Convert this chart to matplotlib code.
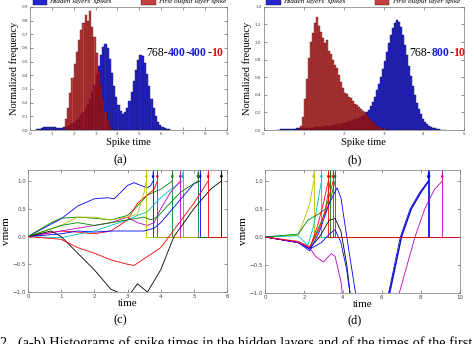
import numpy as np
import matplotlib
matplotlib.use("Agg")
import matplotlib.pyplot as plt

SERIF = ["Liberation Serif", "DejaVu Serif"]

# ---- (a) histogram, 768-400-400-10, bin width 0.1
a_width = 0.1
a_hidden_start = 0.3
a_hidden = [0.005, 0.01, 0.015, 0.02, 0.025, 0.025, 0.025, 0.02, 0.02, 0.015,
            0.015, 0.015, 0.02, 0.025, 0.03, 0.04, 0.05, 0.06, 0.075, 0.09,
            0.11, 0.13, 0.16, 0.19, 0.23, 0.28, 0.33, 0.40, 0.47, 0.55,
            0.61, 0.63, 0.60, 0.52, 0.42, 0.32, 0.24, 0.18, 0.14, 0.12,
            0.13, 0.16, 0.21, 0.28, 0.36, 0.44, 0.51, 0.55, 0.54, 0.49,
            0.41, 0.32, 0.23, 0.16, 0.10, 0.06, 0.035, 0.02, 0.012, 0.007,
            0.004, 0.002]
a_output_start = 1.6
a_output = [0.08, 0.16, 0.27, 0.38, 0.48, 0.57, 0.66, 0.73, 0.78, 0.84,
            0.80, 0.87, 0.75, 0.68, 0.56, 0.43, 0.32, 0.22, 0.13, 0.07,
            0.03, 0.01]

# ---- (b) histogram, 768-800-10, bin width 0.05
b_width = 0.05
b_hidden_start = 0.3
b_hidden = [0.004, 0.006, 0.008, 0.010, 0.012, 0.013, 0.014, 0.015, 0.016, 0.017,
            0.018, 0.019, 0.020, 0.021, 0.022, 0.023, 0.024, 0.026, 0.028, 0.030,
            0.032, 0.034, 0.036, 0.039, 0.042, 0.045, 0.048, 0.051, 0.055, 0.059,
            0.063, 0.068, 0.073, 0.078, 0.084, 0.090, 0.097, 0.104, 0.112, 0.120,
            0.129, 0.138, 0.148, 0.16, 0.175, 0.20, 0.23, 0.27, 0.32, 0.38,
            0.45, 0.52, 0.60, 0.69, 0.79, 0.89, 0.99, 1.08, 1.16, 1.22,
            1.25, 1.23, 1.17, 1.08, 0.97, 0.85, 0.73, 0.61, 0.50, 0.40,
            0.31, 0.24, 0.18, 0.13, 0.095, 0.07, 0.05, 0.036, 0.026, 0.019,
            0.013, 0.009, 0.006, 0.004, 0.002]
b_output_start = 0.85
b_output = [0.01, 0.05, 0.15, 0.35, 0.58, 0.82, 1.00, 1.10, 1.22, 1.29,
            1.18, 1.12, 1.05, 0.99, 1.02, 0.90, 0.86, 0.80, 0.74, 0.70,
            0.62, 0.55, 0.48, 0.42, 0.41, 0.38, 0.36, 0.33, 0.30, 0.28,
            0.26, 0.24, 0.22, 0.20, 0.17, 0.14, 0.11, 0.09, 0.07, 0.05,
            0.035, 0.025, 0.015, 0.01, 0.005, 0.003]

# ---- (c) membrane traces: (times, vmem, colour, spike time)
c_traces = [
    ([0, 1, 1.5, 2, 2.4, 2.6, 3.0, 3.2, 3.4, 3.6, 3.7, 3.77],
     [0, 0.32, 0.55, 0.68, 0.70, 0.68, 0.92, 0.97, 0.92, 0.88, 0.92, 1.0], 'b', 3.77),
    ([0, 0.7, 1, 1.5, 2, 2.5, 3, 3.3, 3.6, 3.8, 4.0, 4.35],
     [0, 0.25, 0.33, 0.35, 0.33, 0.30, 0.38, 0.55, 0.75, 0.80, 0.85, 1.0], 'g', 4.35),
    ([0, 0.5, 1, 1.5, 2, 2.5, 3.0, 3.3, 3.6, 3.8, 3.9],
     [0, 0.05, 0.10, 0.08, 0.05, 0.10, 0.30, 0.60, 0.75, 0.85, 1.0], 'r', 3.9),
    ([0, 1, 2, 2.5, 3, 3.3, 3.6, 4.0, 4.3, 4.66],
     [0, -0.02, 0.10, 0.20, 0.30, 0.38, 0.45, 0.70, 0.85, 1.0], 'c', 4.66),
    ([0, 0.5, 1, 1.5, 2, 2.5, 3, 3.3, 3.6, 3.8, 4.0, 4.3, 4.59],
     [0, 0.05, 0.10, 0.15, 0.20, 0.25, 0.35, 0.25, 0.20, 0.25, 0.50, 0.80, 1.0], 'm', 4.59),
    ([0, 1, 1.5, 2, 2.5, 3, 3.3, 3.5, 3.57],
     [0, 0.20, 0.35, 0.35, 0.30, 0.35, 0.40, 0.80, 1.0], 'y', 3.57),
    ([0, 0.7, 1, 1.5, 2, 2.5, 2.7, 3.0, 3.3, 3.6, 4.0, 4.4, 5.0, 5.5, 5.83],
     [0, 0.10, 0.0, -0.30, -0.60, -0.95, -1.0, -1.1, -0.85, -1.0, -0.60, 0.0, 0.50, 0.85, 1.0], 'k', 5.83),
    ([0, 1, 1.5, 2, 2.5, 3.0, 3.5, 3.8, 4.0, 4.5, 5.0, 5.19],
     [0, 0.05, 0.10, 0.08, 0.10, 0.10, 0.10, 0.15, 0.25, 0.60, 0.95, 1.0], 'b', 5.19),
    ([0, 1, 1.5, 2, 2.5, 3, 3.5, 3.7, 3.9, 4.2, 4.6, 5.12],
     [0, 0.20, 0.25, 0.20, 0.25, 0.30, 0.35, 0.30, 0.35, 0.55, 0.80, 1.0], 'g', 5.12),
    ([0, 1, 1.5, 2, 2.5, 3, 3.2, 3.5, 4, 4.5, 5, 5.43],
     [0, -0.05, -0.20, -0.30, -0.42, -0.50, -0.52, -0.40, -0.20, 0.20, 0.60, 1.0], 'r', 5.43),
]

# ---- (d) membrane traces
d_traces = [
    ([0, 1.7, 2.0, 2.3, 2.5], [0, 0.03, 0.30, 0.60, 1.0], 'y', 2.5),
    ([0, 1.7, 2.2, 2.5, 2.7, 2.9], [0, 0.02, -0.15, 0.20, 0.60, 1.0], 'c', 2.9),
    ([0, 1.7, 2.2, 2.8, 3.1, 3.35], [0, 0.05, 0.30, 0.42, 0.50, 1.0], 'g', 3.35),
    ([0, 1.7, 2.3, 2.7, 3.0, 3.25], [0, -0.10, -0.20, 0.20, 0.60, 1.0], 'r', 3.25),
    ([0, 1.7, 2.3, 2.8, 3.3, 3.6], [0, -0.10, -0.20, 0.20, 0.60, 1.0], 'g', 3.6),
    ([0, 1.7, 2.3, 2.8, 3.3, 3.6, 3.9, 4.2, 4.4, 5.4, 6.38, 6.7, 7.0, 7.5, 8.0, 8.4],
     [0, -0.10, -0.20, 0.0, 0.30, 0.33, 0.10, -0.50, -1.1, -3.0, -1.0, -0.50, 0.0, 0.50, 0.80, 1.0], 'k', None),
    ([0, 1.7, 2.3, 2.9, 3.3, 3.6, 3.9, 4.2, 4.4, 5.4, 6.35, 6.65, 6.95, 7.45, 7.95, 8.38],
     [0, -0.10, -0.22, -0.10, 0.05, 0.13, -0.10, -0.60, -1.1, -3.0, -1.0, -0.50, 0.0, 0.50, 0.80, 1.0], 'b', 8.38),
    ([0, 1.7, 2.3, 2.8, 3.3, 3.7, 3.9, 4.2, 4.6, 4.7, 5.5, 6.42, 6.72, 7.02, 7.52, 8.02, 8.42],
     [0, -0.10, -0.25, 0.10, 0.60, 0.88, 0.70, 0.0, -0.90, -1.1, -3.0, -1.0, -0.50, 0.0, 0.50, 0.80, 1.0], 'b', 8.42),
    ([0, 1.7, 2.3, 2.6, 3.0, 3.4, 3.6, 3.9, 4.0, 5.5, 6.9, 7.3, 7.7, 8.2, 8.7, 9.1],
     [0, -0.10, -0.20, -0.35, -0.45, -0.30, -0.35, -0.80, -1.1, -3.0, -1.0, -0.50, 0.0, 0.50, 0.85, 1.0], 'm', 9.1),
    ([0, 1.7, 2.3, 2.8, 3.2, 3.5], [0, -0.08, -0.18, 0.15, 0.60, 1.0], 'r', 3.5),
]

fig = plt.figure(figsize=(4.74, 3.44), dpi=100)


def style_axes(ax, tick_size):
    ax.tick_params(direction='in', top=True, right=True, labelsize=tick_size,
                   length=2, width=0.4, pad=1.5, colors='#444444')
    for s in ax.spines.values():
        s.set_color('#777777')
        s.set_linewidth(0.5)


def hist_panel(ax, width, hs, hidden, os_, output):
    x_h = hs + width * np.arange(len(hidden))
    x_o = os_ + width * np.arange(len(output))
    bh = ax.bar(x_h, hidden, width=width, align='edge', color='#2626cc',
                edgecolor='#10105a', linewidth=0.3)
    bo = ax.bar(x_o, output, width=width, align='edge', color='#b81414',
                alpha=0.82, edgecolor='#3a0505', linewidth=0.3)
    leg = ax.legend([bh, bo], ["Hidden layers' spikes", "First output layer spike"],
                    loc='center left', bbox_to_anchor=(0.0, 1.05), ncol=2,
                    frameon=False, borderaxespad=0, handlelength=2.0,
                    handleheight=1.3, handletextpad=0.3, columnspacing=4.1,
                    prop={'family': SERIF, 'style': 'italic', 'size': 5.2})
    ax.set_xlabel('Spike time', family=SERIF, fontsize=7.5, labelpad=1)
    ax.set_ylabel('Normalized frequency', family=SERIF, fontsize=7.5, labelpad=2)
    style_axes(ax, 3)
    return leg


def arch_text(ax, x, y, parts):
    # parts: list of (text, colour, weight)
    t = None
    for s, c, w in parts:
        if t is None:
            t = ax.text(x, y, s, color=c, fontweight=w, family=SERIF,
                        fontsize=8.5, va='center', ha='left')
        else:
            t = ax.annotate(s, xycoords=t, xy=(1, 0), va='bottom', ha='left',
                            color=c, fontweight=w, family=SERIF, fontsize=8.5)


def trace_panel(ax, traces, tmax):
    for t, v, c, ts in traces:
        ax.plot(t, v, color=c, lw=0.6)
        if ts is not None:
            ax.vlines(ts, 0, 1.3, color=c, lw=0.6)
            ax.hlines(0, ts, tmax, color=c, lw=0.6)
            ax.annotate('', xy=(ts, 1.04), xytext=(ts, 1.16),
                        arrowprops=dict(arrowstyle='-|>', color=c, lw=0.5,
                                        mutation_scale=4, shrinkA=0, shrinkB=0))
    ax.set_xlim(0, tmax)
    ax.set_ylim(-1.0, 1.2)
    ax.set_yticks([-1.0, -0.5, 0.0, 0.5, 1.0])
    ax.set_xlabel('time', family=SERIF, fontsize=8, labelpad=0)
    ax.set_ylabel('vmem', family=SERIF, fontsize=8, labelpad=1)
    style_axes(ax, 4)


# (a)
ax_a = fig.add_axes([0.063, 0.622, 0.416, 0.358])
hist_panel(ax_a, a_width, a_hidden_start, a_hidden, a_output_start, a_output)
ax_a.set_xlim(0, 9)
ax_a.set_ylim(0, 0.9)
ax_a.set_xticks(range(10))
ax_a.set_yticks(np.arange(0, 0.91, 0.1))
ax_a.yaxis.set_major_formatter(matplotlib.ticker.FormatStrFormatter('%.1f'))
arch_text(ax_a, 5.3, 0.56, [('768-', 'black', 'normal'), ('400', '#1c1cd8', 'bold'),
                             ('-', 'black', 'normal'), ('400', '#1c1cd8', 'bold'),
                             ('-', 'black', 'normal'), ('10', '#dd1111', 'bold')])

# (b)
ax_b = fig.add_axes([0.556, 0.622, 0.422, 0.358])
hist_panel(ax_b, b_width, b_hidden_start, b_hidden, b_output_start, b_output)
ax_b.set_xlim(0, 5)
ax_b.set_ylim(0, 1.4)
ax_b.set_yticks(np.arange(0, 1.41, 0.2))
ax_b.yaxis.set_major_formatter(matplotlib.ticker.FormatStrFormatter('%.1f'))
arch_text(ax_b, 3.65, 0.88, [('768-', 'black', 'normal'), ('800', '#1c1cd8', 'bold'),
                              ('-', 'black', 'normal'), ('10', '#dd1111', 'bold')])

# (c)
ax_c = fig.add_axes([0.059, 0.151, 0.42, 0.355])
trace_panel(ax_c, c_traces, 6)

# (d)
ax_d = fig.add_axes([0.559, 0.149, 0.411, 0.357])
trace_panel(ax_d, d_traces, 10)

for x, y, s in [(0.253, 0.535, '(a)'), (0.749, 0.535, '(b)'),
                (0.253, 0.07, '(c)'), (0.749, 0.07, '(d)')]:
    fig.text(x, y, s, family=SERIF, fontsize=9, ha='center', va='center')

fig.text(0.0, 1 - 336 / 344, '2.  (a-b) Histograms of spike times in the hidden layers and of the times of the first',
         family=SERIF, fontsize=10.3, ha='left', va='top')

fig.savefig('out.png', dpi=100)
